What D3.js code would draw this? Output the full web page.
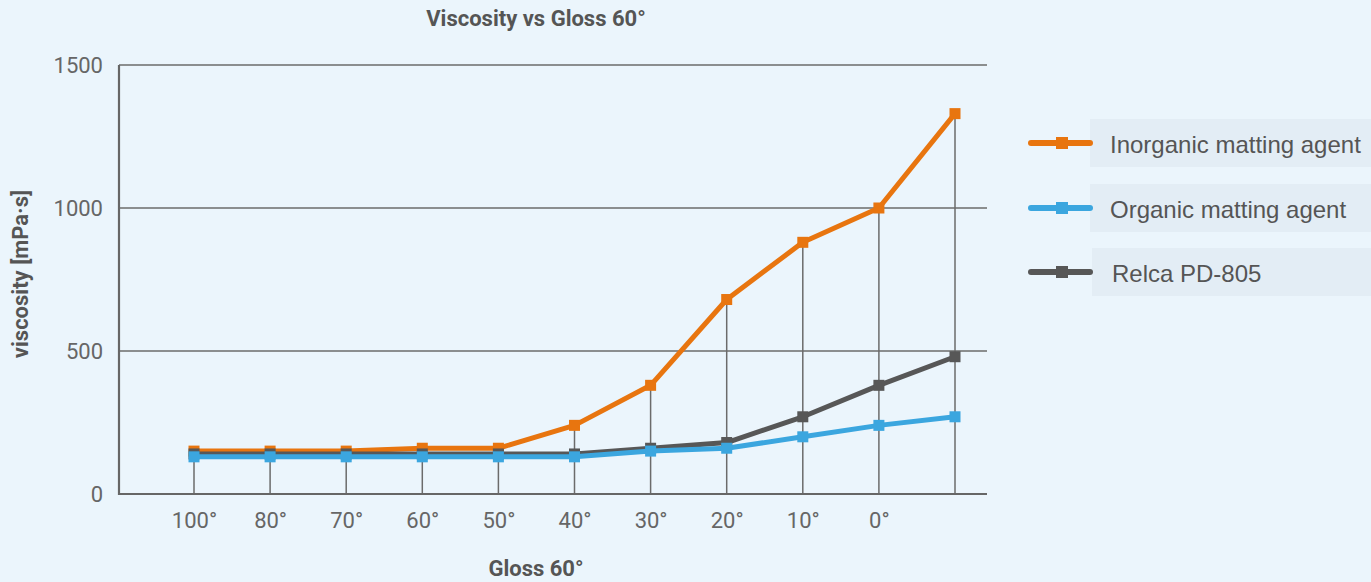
<!DOCTYPE html>
<html><head><meta charset="utf-8">
<script src="https://cdn.jsdelivr.net/npm/d3@7"></script>
<style>html,body{margin:0;padding:0;background:#EBF5FC;}svg{display:block;}</style>
</head><body>
<svg id="c" width="1371" height="582"></svg>
<script>
const categories = ["100°","80°","70°","60°","50°","40°","30°","20°","10°","0°",""];
const inorganic = [150,150,150,160,160,240,380,680,880,1000,1330];
const organic   = [130,130,130,130,130,130,150,160,200,240,270];
const relca     = [140,140,140,140,140,140,160,180,270,380,480];
const seriesNames = ["Inorganic matting agent","Organic matting agent","Relca PD-805"];
const yTicks = [0,500,1000,1500];

const svg = d3.select("#c");
const font = "Roboto, 'Liberation Sans', Arial, sans-serif";
const x0 = 119, x1 = 987, yTop = 65, yBot = 494;
const x = d3.scalePoint().domain(d3.range(categories.length)).range([194,955]);
const y = d3.scaleLinear().domain([0,1500]).range([yBot,yTop]);

const colors = ["#E8750F","#3BA6DF","#575757"];
const series = [inorganic, organic, relca];

// gridlines
svg.append("g").selectAll("line").data(yTicks.filter(d=>d>0)).join("line")
  .attr("x1",x0).attr("x2",x1).attr("y1",d=>y(d)).attr("y2",d=>y(d))
  .attr("stroke","#6b6b6b").attr("stroke-width",1.5);

// drop lines
svg.append("g").selectAll("line").data(d3.range(categories.length)).join("line")
  .attr("x1",i=>x(i)).attr("x2",i=>x(i)).attr("y1",yBot)
  .attr("y2",i=>y(d3.max(series,s=>s[i])))
  .attr("stroke","#6b6b6b").attr("stroke-width",1.5);

// axes
const yAxis = d3.axisLeft(y).tickValues(yTicks).tickFormat(d3.format("d")).tickSize(0).tickPadding(16);
const gy = svg.append("g").attr("transform",`translate(${x0},0)`).call(yAxis);
gy.select(".domain").remove();
gy.selectAll("text").attr("font-family",font).attr("font-size",22).attr("fill","#666");
svg.append("line").attr("x1",x0).attr("x2",x0).attr("y1",yTop).attr("y2",yBot+1)
  .attr("stroke","#666").attr("stroke-width",2.2);
svg.append("line").attr("x1",x0-1).attr("x2",x1).attr("y1",yBot).attr("y2",yBot)
  .attr("stroke","#666").attr("stroke-width",2.2);

const xAxis = d3.axisBottom(x).tickFormat(i=>categories[i]).tickSize(0).tickPadding(18);
const gx = svg.append("g").attr("transform",`translate(0,${yBot})`).call(xAxis);
gx.select(".domain").remove();
gx.selectAll("text").attr("font-family",font).attr("font-size",22).attr("fill","#666");

// series lines (draw order: inorganic, relca, organic)
const line = d3.line().x((d,i)=>x(i)).y(d=>y(d));
[0,2,1].forEach(k=>{
  const g = svg.append("g");
  g.append("path").datum(series[k]).attr("d",line).attr("fill","none")
    .attr("stroke",colors[k]).attr("stroke-width",5).attr("stroke-linejoin","round");
  g.selectAll("rect").data(series[k]).join("rect")
    .attr("x",(d,i)=>x(i)-5.5).attr("y",d=>y(d)-5.5).attr("width",11).attr("height",11)
    .attr("fill",colors[k]);
});

// titles
svg.append("text").attr("x",536).attr("y",26).attr("text-anchor","middle")
  .attr("font-family",font).attr("font-weight","bold").attr("font-size",22).attr("fill","#555")
  .text("Viscosity vs Gloss 60°");
svg.append("text").attr("x",536).attr("y",576).attr("text-anchor","middle")
  .attr("font-family",font).attr("font-weight","bold").attr("font-size",22).attr("fill","#555")
  .text("Gloss 60°");
svg.append("text").attr("transform","translate(28,274) rotate(-90)").attr("text-anchor","middle")
  .attr("font-family",font).attr("font-weight","bold").attr("font-size",22).attr("fill","#555")
  .text("viscosity [mPa·s]");

// legend
const legY = [143,208,272];
const boxX = [1090,1090,1092];
const textX = [1110,1110,1112];
seriesNames.forEach((n,k)=>{
  const g = svg.append("g");
  g.append("rect").attr("x",boxX[k]).attr("y",legY[k]-24).attr("width",290).attr("height",48).attr("fill","#E3EDF5");
  g.append("line").attr("x1",1031).attr("x2",1090).attr("y1",legY[k]).attr("y2",legY[k])
    .attr("stroke",colors[k]).attr("stroke-width",6).attr("stroke-linecap","round");
  g.append("rect").attr("x",1056).attr("y",legY[k]-6).attr("width",12).attr("height",12).attr("fill",colors[k]);
  g.append("text").attr("x",textX[k]).attr("y",legY[k]+10).attr("font-family","'Liberation Sans', Arial, sans-serif")
    .attr("font-size",24).attr("fill","#555").text(n);
});
</script>
</body></html>
